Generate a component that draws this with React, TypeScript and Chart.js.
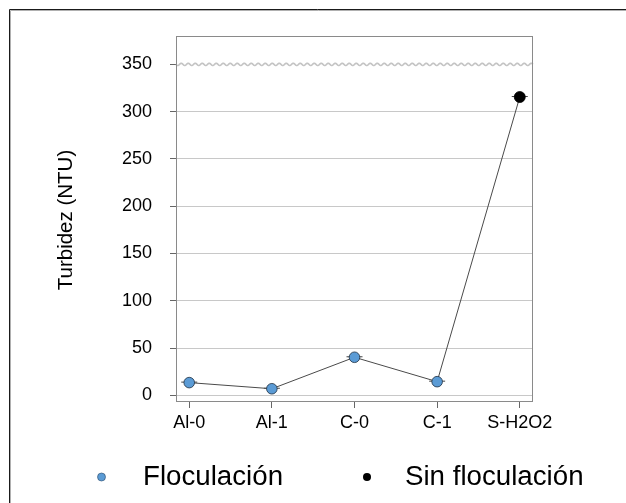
import React, { useEffect, useRef } from "react";
import { Chart, registerables } from "chart.js";

Chart.register(...registerables);

const categories = ["Al-0", "Al-1", "C-0", "C-1", "S-H2O2"];
const turbidity = [13.5, 7, 40.3, 14.5, 315.5];
const floculacionIdx = [0, 1, 2, 3];
const sinFloculacionIdx = [4];
const yTicks = [0, 50, 100, 150, 200, 250, 300, 350];
const legendLabels = ["Floculación", "Sin floculación"];
const yTitle = "Turbidez (NTU)";
const breakValue = 350;

const FONT = "'Liberation Sans', Arial, sans-serif";

export default function App() {
  const ref = useRef<HTMLCanvasElement | null>(null);

  useEffect(() => {
    document.body.style.margin = "0";
    const canvas = ref.current!;
    const decor = {
      id: "decor",
      beforeDatasetsDraw(chart: any) {
        const { ctx, chartArea: a, scales } = chart;
        const y = scales.y;
        const x = scales.x;
        ctx.save();
        // wavy break line
        const yy = y.getPixelForValue(breakValue);
        ctx.beginPath();
        ctx.strokeStyle = "#c4c4c4";
        ctx.lineWidth = 1.6;
        for (let px = a.left; px <= a.right; px += 0.5) {
          const py = yy + 1.1 * Math.sin(((px - a.left) / 7) * 2 * Math.PI);
          if (px === a.left) ctx.moveTo(px, py);
          else ctx.lineTo(px, py);
        }
        ctx.stroke();
        // error caps
        ctx.strokeStyle = "#444";
        ctx.lineWidth = 1;
        turbidity.forEach((v, i) => {
          const cx = x.getPixelForValue(i);
          const cy = y.getPixelForValue(v);
          ctx.beginPath();
          ctx.moveTo(cx - 8, cy - 0.5);
          ctx.lineTo(cx + 8, cy - 0.5);
          ctx.stroke();
        });
        ctx.restore();
      },
      afterDraw(chart: any) {
        const { ctx, chartArea: a } = chart;
        ctx.save();
        // plot box
        ctx.strokeStyle = "#8a8a8a";
        ctx.lineWidth = 1;
        ctx.strokeRect(a.left + 0.5, a.top + 0.5, a.right - a.left - 1, a.bottom - a.top - 1);
        // outer frame
        ctx.strokeStyle = "#1a1a1a";
        ctx.beginPath();
        ctx.moveTo(9.5, 503);
        ctx.lineTo(9.5, 9.5);
        ctx.lineTo(626, 9.5);
        ctx.stroke();
        ctx.strokeStyle = "#b0b0b0";
        ctx.beginPath();
        ctx.moveTo(10.5, 503);
        ctx.lineTo(10.5, 10.5);
        ctx.lineTo(626, 10.5);
        ctx.stroke();
        // y title
        ctx.fillStyle = "#000";
        ctx.font = `20.5px ${FONT}`;
        ctx.textAlign = "center";
        ctx.textBaseline = "middle";
        ctx.translate(66, (a.top + a.bottom) / 2 + 1);
        ctx.rotate(-Math.PI / 2);
        ctx.fillText(yTitle, 0, 0);
        ctx.setTransform(1, 0, 0, 1, 0, 0);
        // legend
        ctx.font = `27.7px ${FONT}`;
        ctx.textAlign = "left";
        ctx.textBaseline = "middle";
        ctx.beginPath();
        ctx.arc(101.5, 477, 4, 0, Math.PI * 2);
        ctx.fillStyle = "#5b9bd5";
        ctx.fill();
        ctx.strokeStyle = "#2a4a6a";
        ctx.lineWidth = 0.6;
        ctx.stroke();
        ctx.fillStyle = "#000";
        ctx.fillText(legendLabels[0], 143, 477);
        ctx.beginPath();
        ctx.arc(367, 477, 4, 0, Math.PI * 2);
        ctx.fill();
        ctx.fillText(legendLabels[1], 405, 477);
        ctx.restore();
      },
    };

    const chart = new Chart(canvas, {
      type: "scatter",
      data: {
        datasets: [
          {
            label: "line",
            data: turbidity.map((v, i) => ({ x: i, y: v })),
            showLine: true,
            borderColor: "#4a4a4a",
            borderWidth: 1,
            pointRadius: 0,
            order: 3,
          },
          {
            label: legendLabels[0],
            data: floculacionIdx.map((i) => ({ x: i, y: turbidity[i] })),
            pointRadius: 5.3,
            pointBackgroundColor: "#5b9bd5",
            pointBorderColor: "#1e2e40",
            pointBorderWidth: 0.8,
            order: 1,
          },
          {
            label: legendLabels[1],
            data: sinFloculacionIdx.map((i) => ({ x: i, y: turbidity[i] })),
            pointRadius: 5.5,
            pointBackgroundColor: "#000",
            pointBorderColor: "#000",
            pointBorderWidth: 0.8,
            order: 2,
          },
        ],
      },
      options: {
        responsive: false,
        animation: false,
        layout: { padding: { top: 36, right: 93, left: 0, bottom: 0 } },
        plugins: { legend: { display: false }, tooltip: { enabled: false } },
        scales: {
          x: {
            type: "linear",
            min: -0.16,
            max: 4.16,
            afterFit(scale: any) {
              scale.height = 101;
            },
            afterBuildTicks(scale: any) {
              scale.ticks = categories.map((_, i) => ({ value: i }));
            },
            ticks: {
              includeBounds: false,
              stepSize: 1,
              autoSkip: false,
              maxRotation: 0,
              padding: 4,
              color: "#000",
              font: { family: FONT, size: 18 },
              callback: (v: any) => categories[v as number] ?? "",
            },
            grid: {
              color: "transparent",
              tickColor: "#666",
              tickLength: 6,
            },
            border: { display: false },
          },
          y: {
            min: -7,
            max: 380,
            afterFit(scale: any) {
              scale.width = 176;
            },
            afterBuildTicks(scale: any) {
              scale.ticks = yTicks.map((v) => ({ value: v }));
            },
            ticks: {
              includeBounds: false,
              stepSize: 50,
              padding: 18,
              color: "#000",
              font: { family: FONT, size: 18 },
            },
            grid: {
              color: (c: any) => (c.tick && c.tick.value === breakValue ? "transparent" : "#c8c8c8"),
              tickColor: "#666",
              tickLength: 6,
              lineWidth: 1,
            },
            border: { display: false },
          },
        },
      },
      plugins: [decor],
    } as any);
    return () => chart.destroy();
  }, []);

  return (
    <div style={{ width: 626, height: 503, background: "#fff" }}>
      <canvas ref={ref} width={626} height={503} style={{ display: "block" }} />
    </div>
  );
}
